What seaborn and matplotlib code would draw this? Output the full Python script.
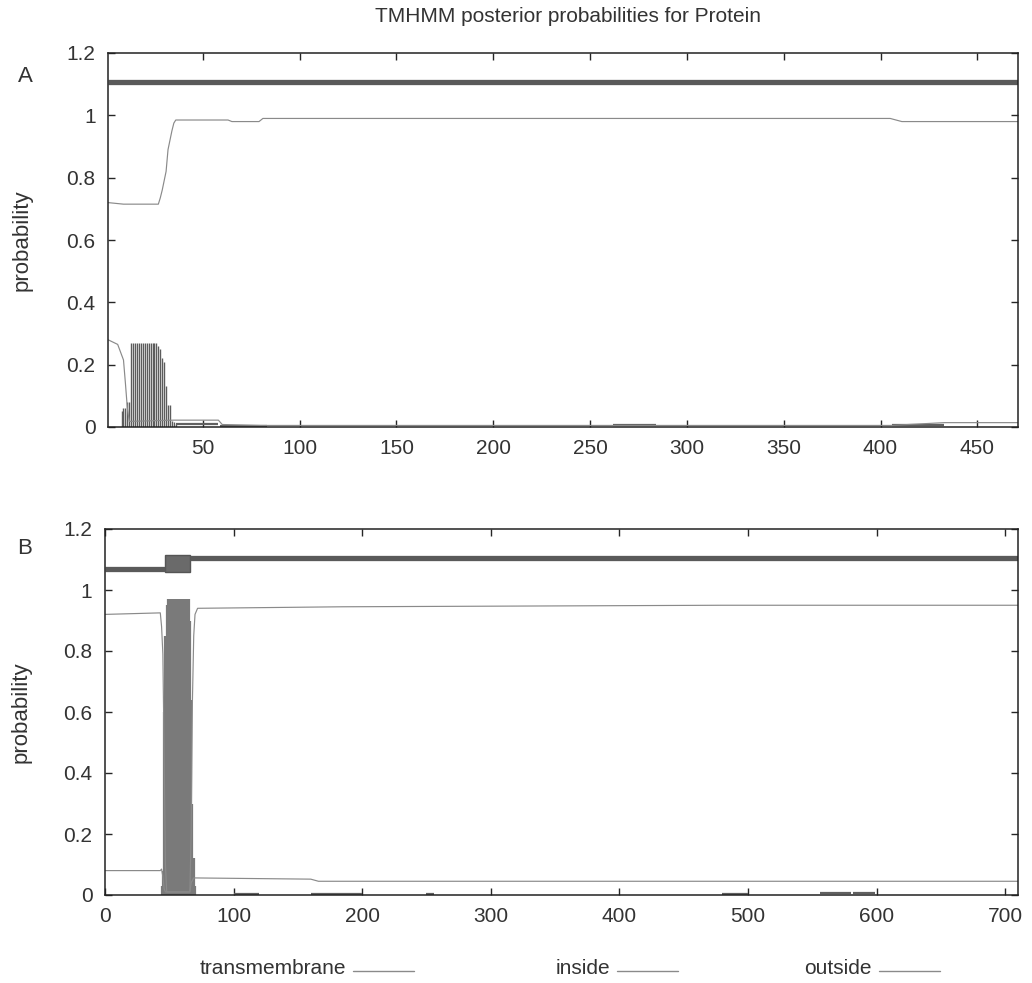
"""TMHMM posterior probability plots for two proteins (panels A and B)."""

import matplotlib
matplotlib.use("Agg")
import matplotlib.pyplot as plt
import pandas as pd
import seaborn as sns
from matplotlib.lines import Line2D
from matplotlib.patches import Rectangle

# ---- panel A: 471 residues, whole chain predicted outside ----
a_xlim = (1, 471)
a_inside_pos = [1, 6, 9, 10, 11, 12, 35, 58, 60, 80, 405, 433, 471]
a_inside_val = [0.28, 0.265, 0.215, 0.14, 0.06, 0.018, 0.022, 0.022, 0.008, 0.005, 0.005, 0.014, 0.014]
a_outside_pos = [1, 9, 27, 28, 29, 30, 31, 32, 33, 34, 35, 36, 63, 65, 79, 81, 405, 408, 411, 471]
a_outside_val = [0.72, 0.715, 0.715, 0.735, 0.76, 0.79, 0.82, 0.89, 0.92, 0.95, 0.975, 0.985,
                 0.985, 0.98, 0.98, 0.99, 0.99, 0.985, 0.98, 0.98]
a_tm_res = list(range(8, 37))
a_tm_prob = [0.05, 0.06, 0.06, 0.08, 0.08, 0.27, 0.27, 0.27, 0.27, 0.27, 0.27, 0.27, 0.27, 0.27,
             0.27, 0.27, 0.27, 0.27, 0.27, 0.26, 0.25, 0.22, 0.21, 0.13, 0.07, 0.07, 0.02, 0.015, 0.01]
# faint transmembrane runs close to zero
a_low_start = [36, 59, 262, 406]
a_low_end = [58, 83, 284, 433]
a_low_prob = [0.01, 0.004, 0.005, 0.006]
a_topo_start = [1]
a_topo_end = [471]
a_topo_state = ["o"]

# ---- panel B: 710 residues, one helix ----
b_xlim = (0, 710)
b_inside_pos = [0, 43, 44, 45, 46, 47, 48, 66, 67, 69, 160, 166, 710]
b_inside_val = [0.92, 0.925, 0.88, 0.79, 0.45, 0.1, 0.01, 0.01, 0.04, 0.056, 0.052, 0.045, 0.045]
b_outside_pos = [0, 43, 44, 45, 46, 47, 66, 67, 68, 69, 70, 72, 185, 480, 710]
b_outside_val = [0.08, 0.08, 0.085, 0.06, 0.02, 0.01, 0.01, 0.2, 0.64, 0.85, 0.92, 0.94, 0.945, 0.95, 0.95]
b_tm_res = list(range(44, 71))
b_tm_prob = [0.03, 0.08, 0.6, 0.85, 0.95, 0.97, 0.97, 0.97, 0.97, 0.97, 0.97, 0.97, 0.97, 0.97,
             0.97, 0.97, 0.97, 0.97, 0.97, 0.97, 0.97, 0.97, 0.9, 0.64, 0.3, 0.12, 0.03]
b_low_start = [100, 160, 250, 480, 556, 582]
b_low_end = [120, 200, 256, 500, 580, 599]
b_low_prob = [0.004, 0.004, 0.003, 0.003, 0.005, 0.005]
b_topo_start = [0, 47, 66]
b_topo_end = [47, 66, 710]
b_topo_state = ["i", "M", "o"]

topo_level = {"i": 1.068, "o": 1.106}
line_grey = "#8a8a8a"
text_col = "#333333"

sns.set_style("ticks")
plt.rcParams["font.family"] = ["Liberation Sans", "DejaVu Sans"]
plt.rcParams["font.size"] = 15

W, H = 1032, 983
fig = plt.figure(figsize=(W / 100, H / 100), dpi=100)


def px_axes(left, top, right, bottom):
    return fig.add_axes([left / W, 1 - bottom / H, (right - left) / W, (bottom - top) / H])


def draw_panel(ax, xlim, xticks, inside, outside, tm, low, topo, tm_col, tm_lw):
    # transmembrane probability as impulses
    ax.vlines(tm[0], 0, tm[1], color=tm_col, lw=tm_lw)
    ax.hlines(low[2], low[0], low[1], color="#606060", lw=1.6)

    df_in = pd.DataFrame({"pos": inside[0], "prob": inside[1]})
    df_out = pd.DataFrame({"pos": outside[0], "prob": outside[1]})
    sns.lineplot(data=df_in, x="pos", y="prob", ax=ax, color=line_grey, lw=0.85, estimator=None)
    sns.lineplot(data=df_out, x="pos", y="prob", ax=ax, color=line_grey, lw=0.85, estimator=None)

    # predicted topology bar on top
    for start, end, state in zip(*topo):
        if state == "M":
            ax.add_patch(Rectangle((start, topo_level["i"] - 0.008), end - start,
                                   topo_level["o"] - topo_level["i"] + 0.016,
                                   facecolor="#6a6a6a", edgecolor="#555555", lw=1))
        else:
            ax.hlines(topo_level[state], start, end, color="#5a5a5a", lw=3.8)

    ax.set_xlim(*xlim)
    ax.set_ylim(0, 1.2)
    ax.set_xticks(xticks)
    ax.set_yticks([0, 0.2, 0.4, 0.6, 0.8, 1.0, 1.2])
    ax.set_yticklabels(["0", "0.2", "0.4", "0.6", "0.8", "1", "1.2"])
    ax.tick_params(direction="in", length=5, width=1, top=True, right=True,
                   labelsize=15, labelcolor=text_col, pad=9)
    for sp in ax.spines.values():
        sp.set_visible(True)
        sp.set_linewidth(1.1)
        sp.set_color("#222222")
    ax.set_xlabel("")
    ax.set_ylabel("probability", fontsize=16, color=text_col)


ax_a = px_axes(108, 53, 1018, 427)
draw_panel(ax_a, a_xlim, list(range(50, 451, 50)),
           (a_inside_pos, a_inside_val), (a_outside_pos, a_outside_val),
           (a_tm_res, a_tm_prob), (a_low_start, a_low_end, a_low_prob),
           (a_topo_start, a_topo_end, a_topo_state), "#5c5c5c", 1.0)
ax_a.yaxis.set_label_coords(-0.083, 0.5)

ax_b = px_axes(105, 529, 1018, 895)
draw_panel(ax_b, b_xlim, list(range(0, 701, 100)),
           (b_inside_pos, b_inside_val), (b_outside_pos, b_outside_val),
           (b_tm_res, b_tm_prob), (b_low_start, b_low_end, b_low_prob),
           (b_topo_start, b_topo_end, b_topo_state), "#7a7a7a", 1.6)
ax_b.yaxis.set_label_coords(-0.080, 0.5)

fig.text(568 / W, 1 - 16 / H, "TMHMM posterior probabilities for Protein",
         ha="center", va="center", fontsize=15, color=text_col)
fig.text(25 / W, 1 - 77 / H, "A", ha="center", va="center", fontsize=16, color=text_col)
fig.text(25 / W, 1 - 548 / H, "B", ha="center", va="center", fontsize=16, color=text_col)

# gnuplot-style key below the plots: label then sample line
legend_labels = ["transmembrane", "inside", "outside"]
legend_right = [346, 610, 872]
legend_y = 1 - 969 / H
for label, xr in zip(legend_labels, legend_right):
    fig.text(xr / W, legend_y, label, ha="right", va="center", fontsize=15, color=text_col)
    fig.add_artist(Line2D([(xr + 7) / W, (xr + 68) / W], [legend_y - 0.002, legend_y - 0.002],
                          color=line_grey, lw=1.0, transform=fig.transFigure))

fig.savefig("out.png", dpi=100, facecolor="white")
